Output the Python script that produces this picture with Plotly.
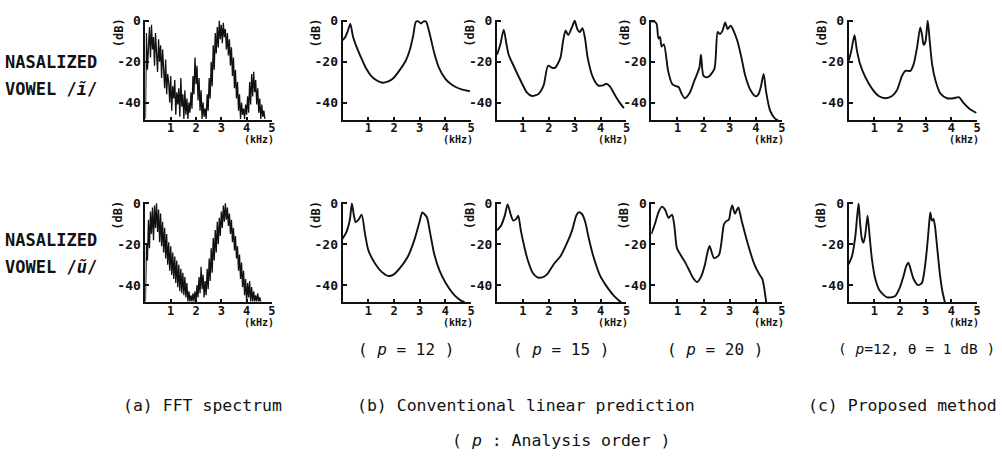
import plotly.graph_objects as go

W, H = 1002, 458

# ---------------- data ----------------
FREQ_TICKS = [1, 2, 3, 4, 5]
FREQ_TICK_LABELS = ["1", "2", "3", "4", "5"]
DB_TICKS = [0, -20, -40]
DB_TICK_LABELS = ["0", "-20", "-40"]

ROW_LABEL_1 = "NASALIZED"
ROW_LABELS_2 = ["VOWEL /<i>ĩ</i>/", "VOWEL /<i>ũ</i>/"]
ORDER_LABELS = ["( <i>p</i> = 12 )", "( <i>p</i> = 15 )", "( <i>p</i> = 20 )", "( <i>p</i>=12, θ = 1 dB )"]
CAPTIONS = ["(a) FFT spectrum", "(b) Conventional linear prediction", "(c) Proposed method"]
SUBCAPTION = "( <i>p</i> : Analysis order )"

# FFT spectra, one value per 0.04 kHz bin
FFT_BIN_KHZ = 0.04
FFT_I_DB = [-48, -6, -24, -10, -3, -18, -2, -14, -8, -22, -6, -16, -25, -9, -20, -12, -28, -14, -24, -33,
            -19, -36, -26, -30, -40, -27, -44, -32, -38, -29, -46, -35, -41, -33, -47, -28, -42, -36, -48, -34,
            -46, -38, -48, -40, -45, -35, -43, -27, -36, -18, -31, -22, -39, -28, -44, -34, -48, -40, -47, -43,
            -48, -36, -44, -28, -38, -20, -32, -12, -24, -6, -16, -3, -13, 0, -9, -2, -11, -1, -8, -4,
            -14, -6, -17, -9, -22, -13, -27, -18, -33, -24, -38, -30, -44, -36, -48, -40, -46, -43, -48, -41,
            -46, -37, -45, -30, -41, -26, -37, -25, -35, -29, -41, -33, -45, -38, -48, -41, -47, -44, -48]
FFT_U_DB = [-48, -20, -28, -8, -22, -4, -15, -2, -18, -1, -12, 0, -14, -3, -19, -5, -21, -9, -24, -12,
            -27, -15, -30, -19, -33, -21, -35, -24, -37, -26, -39, -28, -41, -30, -43, -32, -44, -34, -45, -36,
            -46, -39, -48, -43, -48, -45, -48, -44, -48, -43, -48, -40, -46, -36, -44, -31, -42, -35, -46, -38,
            -45, -32, -42, -27, -38, -22, -34, -17, -28, -13, -24, -9, -20, -7, -16, -4, -12, -1, -9, 0,
            -8, -2, -11, -5, -15, -8, -19, -12, -23, -16, -27, -21, -33, -25, -37, -29, -41, -33, -45, -37,
            -48, -39, -46, -38, -48, -41, -48, -43, -48, -45, -48, -44, -48, -46, -48]

# Linear-prediction envelopes, /i~/ (top row)
LP12_I_KHZ = [0.0, 0.1, 0.2, 0.3, 0.4, 0.55, 0.7, 0.9, 1.1, 1.3, 1.55, 1.75, 1.95, 2.2, 2.45, 2.62, 2.75, 2.85, 2.95,
              3.05, 3.15, 3.25, 3.32, 3.42, 3.55, 3.75, 4.0, 4.2, 4.4, 4.7, 4.95]
LP12_I_DB = [-9.5, -8, -5, -1.5, -7.5, -13, -17.5, -23, -26.8, -29, -30.3, -29.8, -28.4, -24.5, -19.7, -14, -7, -0.5,
             -0.3, -1.3, -0.3, -0.5, -3, -8, -15, -23, -28.4, -30.8, -32.4, -33.8, -34.5]
LP15_I_KHZ = [0.0, 0.12, 0.26, 0.36, 0.45, 0.64, 0.9, 1.15, 1.35, 1.6, 1.8, 1.97, 2.12, 2.25, 2.45, 2.55, 2.65, 2.75,
              2.9, 3.0, 3.1, 3.2, 3.3, 3.4, 3.5, 3.7, 3.9, 4.1, 4.22, 4.35, 4.55, 4.75, 4.9]
LP15_I_DB = [-16.6, -12, -4.3, -11, -16.6, -22, -29, -35, -36.8, -35.8, -31.6, -22, -23, -22.9, -18, -10, -4.7, -7,
             -3, 0, -4, -5.5, -3.6, -8.7, -18, -27.6, -31.6, -31.6, -30.8, -32, -36.3, -40.3, -42.7]
LP20_I_KHZ = [0.0, 0.1, 0.2, 0.27, 0.33, 0.39, 0.48, 0.64, 0.8, 0.95, 1.05, 1.15, 1.28, 1.46, 1.65, 1.84, 1.9, 2.0,
              2.16, 2.41, 2.54, 2.63, 2.73, 2.83, 2.92, 3.04, 3.17, 3.3, 3.45, 3.6, 3.8, 4.0, 4.1, 4.2, 4.3, 4.4,
              4.55, 4.75, 4.85]
LP20_I_DB = [-0.5, -0.3, -1.5, -8.7, -7.9, -12.6, -11.5, -24.5, -31, -32, -32.5, -35.5, -37.9, -35.5, -29.2, -22.9,
             -16.6, -27, -27.6, -23.7, -5.5, -6.5, -4.7, -0.8, -4, -2.4, -5.5, -10, -18, -27, -34, -37, -36, -32,
             -26, -35, -44, -48, -48.5]
PROP_I_KHZ = [0.0, 0.1, 0.23, 0.32, 0.45, 0.65, 0.91, 1.17, 1.43, 1.69, 1.88, 2.08, 2.21, 2.4, 2.53, 2.66, 2.79,
              2.86, 2.92, 2.99, 3.08, 3.16, 3.25, 3.38, 3.57, 3.83, 4.09, 4.29, 4.48, 4.74, 4.97]
PROP_I_DB = [-19.7, -15, -7.1, -14.2, -21.3, -27.6, -33.2, -36.8, -37.9, -36.8, -34, -26.9, -24.5, -24.5, -21.3,
             -13.4, -3.2, -7.1, -11.8, -10.3, 0, -10.3, -21.3, -29.2, -35.5, -37.9, -37.9, -37.4, -40.3, -43.4, -45]

# Linear-prediction envelopes, /u~/ (bottom row)
LP12_U_KHZ = [0.0, 0.15, 0.28, 0.36, 0.44, 0.51, 0.62, 0.74, 0.87, 1.0, 1.26, 1.51, 1.77, 1.96, 2.22, 2.54, 2.79,
              2.99, 3.1, 3.18, 3.28, 3.41, 3.56, 3.76, 4.01, 4.33, 4.59, 4.75]
LP12_U_DB = [-17.3, -14, -8, 0, -6, -9.2, -8, -5.5, -14.8, -22.9, -29.4, -33.4, -35.5, -35, -31.8, -26, -18, -9.2,
             -4.4, -5.2, -6.8, -14.8, -24.5, -32.6, -39, -44.7, -47.5, -48.5]
LP15_U_KHZ = [0.0, 0.16, 0.3, 0.41, 0.54, 0.63, 0.75, 0.82, 0.92, 1.05, 1.18, 1.37, 1.56, 1.75, 1.94, 2.19, 2.45,
              2.7, 2.9, 3.06, 3.15, 3.28, 3.41, 3.53, 3.72, 3.98, 4.2, 4.5, 4.8]
LP15_U_DB = [-13.2, -10.8, -6, -0.5, -6, -8.4, -7.5, -6, -13.2, -21, -27.5, -33.8, -36.2, -36.2, -34.6, -29.8, -25.9,
             -19.5, -13.2, -6, -4.4, -5.2, -9.2, -16.3, -25.9, -35.4, -40, -45, -48.5]
LP20_U_KHZ = [0.0, 0.15, 0.28, 0.41, 0.53, 0.66, 0.79, 0.88, 0.98, 1.11, 1.3, 1.49, 1.6, 1.75, 1.9, 2.05, 2.15, 2.23,
              2.4, 2.59, 2.78, 2.87, 2.97, 3.04, 3.1, 3.2, 3.33, 3.45, 3.7, 3.95, 4.15, 4.25, 4.33, 4.4]
LP20_U_DB = [-15, -9.5, -4, -1.6, -3.2, -7.1, -5.5, -11, -22, -25, -29, -33.8, -36.5, -38.5, -36, -30, -24, -20.8,
             -26.8, -25.3, -10.3, -8.7, -8, -3.2, -1, -5, -2, -8, -20, -30, -35, -37, -42, -48.5]
PROP_U_KHZ = [0.0, 0.13, 0.26, 0.33, 0.39, 0.45, 0.52, 0.58, 0.64, 0.69, 0.74, 0.82, 0.91, 1.04, 1.2, 1.5, 1.8, 2.0,
              2.15, 2.25, 2.33, 2.43, 2.53, 2.7, 2.85, 2.95, 3.05, 3.12, 3.18, 3.24, 3.3, 3.36, 3.43, 3.56, 3.65, 3.75]
PROP_U_DB = [-29.8, -25.9, -16.3, -6.8, 0, -10, -17.5, -19.2, -16, -11, -6, -16.3, -27.5, -37, -42.5, -46, -45.5, -41,
             -35, -30.5, -29, -33, -37, -40, -39, -33, -22, -12, -4.4, -8.4, -7.6, -11, -19.5, -35.4, -43, -48.5]

# ---------------- layout geometry (pixels) ----------------
COL_PX = [(146, 273), (344, 473), (499, 629), (654, 785), (852, 981)]
PX_PER_DB = 2.07
ROW_ZERO_PX = [15, 200]          # pixel row of 0 dB in each row of panels
Y_RANGE = [-48.5, 0.6]

FONT = "DejaVu Sans Mono"
INK = "#111111"

fft_i_khz = [round(k * FFT_BIN_KHZ, 2) for k in range(len(FFT_I_DB))]
fft_u_khz = [round(k * FFT_BIN_KHZ, 2) for k in range(len(FFT_U_DB))]

panels = [
    (0, 0, fft_i_khz, FFT_I_DB, "linear"),
    (0, 1, LP12_I_KHZ, LP12_I_DB, "spline"),
    (0, 2, LP15_I_KHZ, LP15_I_DB, "spline"),
    (0, 3, LP20_I_KHZ, LP20_I_DB, "spline"),
    (0, 4, PROP_I_KHZ, PROP_I_DB, "spline"),
    (1, 0, fft_u_khz, FFT_U_DB, "linear"),
    (1, 1, LP12_U_KHZ, LP12_U_DB, "spline"),
    (1, 2, LP15_U_KHZ, LP15_U_DB, "spline"),
    (1, 3, LP20_U_KHZ, LP20_U_DB, "spline"),
    (1, 4, PROP_U_KHZ, PROP_U_DB, "spline"),
]

fig = go.Figure()
layout = {}
annotations = []

for i, (r, c, xs, ys, shape) in enumerate(panels):
    n = i + 1
    sfx = "" if n == 1 else str(n)
    x0, x1 = COL_PX[c]
    z = ROW_ZERO_PX[r]
    t = z - Y_RANGE[1] * PX_PER_DB
    b = z - Y_RANGE[0] * PX_PER_DB
    line = dict(color=INK, width=1.3 if shape == "linear" else 1.9, shape=shape)
    if shape == "spline":
        line["smoothing"] = 0.7
    fig.add_trace(go.Scatter(x=xs, y=ys, mode="lines", line=line,
                             xaxis="x" + sfx, yaxis="y" + sfx, showlegend=False,
                             hoverinfo="skip"))
    layout["xaxis" + sfx] = dict(
        domain=[x0 / W, x1 / W], range=[0, 5], anchor="y" + sfx,
        tickvals=FREQ_TICKS, ticktext=FREQ_TICK_LABELS,
        ticks="inside", ticklen=3, tickwidth=1.5, tickcolor=INK, ticklabelstandoff=-4,
        showline=True, linewidth=2, linecolor=INK, showgrid=False, zeroline=False,
        tickfont=dict(family=FONT, size=12, color=INK, weight="bold"), fixedrange=True,
    )
    layout["yaxis" + sfx] = dict(
        domain=[1 - b / H, 1 - t / H], range=Y_RANGE, anchor="x" + sfx,
        tickvals=DB_TICKS, ticktext=DB_TICK_LABELS,
        ticks="inside", ticklen=4, tickwidth=1.5, tickcolor=INK,
        showline=True, linewidth=2, linecolor=INK, showgrid=False, zeroline=False,
        tickfont=dict(family=FONT, size=13, color=INK, weight="bold"), fixedrange=True,
    )
    # (kHz) under right end
    annotations.append(dict(text="(kHz)", xref="paper", yref="paper",
                            x=(x1 + 4) / W, y=1 - (b + 20) / H, xanchor="right", yanchor="middle",
                            showarrow=False, font=dict(family=FONT, size=10, color=INK, weight="bold")))
    # (dB) rotated label
    annotations.append(dict(text="(dB)", xref="paper", yref="paper",
                            x=(x0 - 27) / W, y=1 - (z + 12) / H, xanchor="center", yanchor="middle",
                            textangle=-90, showarrow=False,
                            font=dict(family=FONT, size=12, color=INK, weight="bold")))

# row labels
ROW_LABEL_Y = [(57, 84), (237, 264)]
for r, txt in enumerate(ROW_LABELS_2):
    y1, y2 = ROW_LABEL_Y[r]
    annotations.append(dict(text=ROW_LABEL_1, xref="paper", yref="paper", x=3 / W, y=1 - y1 / H,
                            xanchor="left", yanchor="middle", showarrow=False,
                            font=dict(family=FONT, size=17, color=INK, weight="bold")))
    annotations.append(dict(text=txt, xref="paper", yref="paper", x=3 / W, y=1 - y2 / H,
                            xanchor="left", yanchor="middle", showarrow=False,
                            font=dict(family=FONT, size=17, color=INK, weight="bold")))

# order labels under columns b1..c
order_x = [408, 563, 718, 920]
order_size = [16, 16, 16, 14.5]
for txt, cx, fs in zip(ORDER_LABELS, order_x, order_size):
    annotations.append(dict(text=txt, xref="paper", yref="paper", x=cx / W,
                            y=1 - 348 / H, xanchor="center", yanchor="middle", showarrow=False,
                            font=dict(family=FONT, size=fs, color=INK)))

cap_x = [203, 528, 906]
for txt, cx in zip(CAPTIONS, cap_x):
    annotations.append(dict(text=txt, xref="paper", yref="paper", x=cx / W, y=1 - 405 / H,
                            xanchor="center", yanchor="middle", showarrow=False,
                            font=dict(family=FONT, size=16.5, color=INK)))
annotations.append(dict(text=SUBCAPTION, xref="paper", yref="paper", x=564 / W, y=1 - 440 / H,
                        xanchor="center", yanchor="middle", showarrow=False,
                        font=dict(family=FONT, size=16.5, color=INK)))

fig.update_layout(
    width=W, height=H, margin=dict(l=0, r=0, t=0, b=0),
    paper_bgcolor="white", plot_bgcolor="white",
    annotations=annotations, **layout,
)

fig.write_html("out.html", config={"displayModeBar": False})
